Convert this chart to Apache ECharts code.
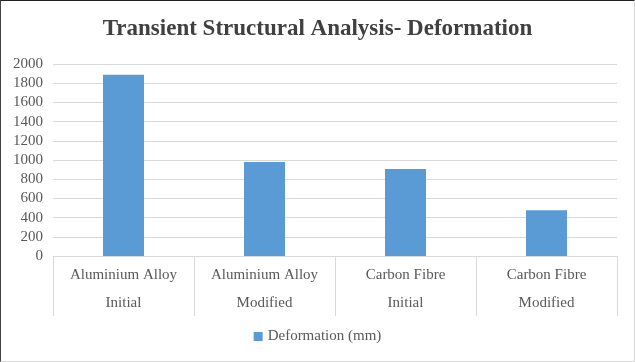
<!DOCTYPE html>
<html>
<head>
<meta charset="utf-8">
<script src="https://cdn.jsdelivr.net/npm/echarts@6/dist/echarts.min.js"></script>
<style>
html,body{margin:0;padding:0;background:#fff;}
#c{position:absolute;left:0;top:0;width:633px;height:360px;border-top:1px solid #222;border-left:1px solid #444;border-right:1px solid #d9d9d9;border-bottom:1px solid #d9d9d9;}
</style>
</head>
<body>
<div id="c"></div>
<script>
const title = 'Transient Structural Analysis- Deformation';
const categories = ['Aluminium Alloy\nInitial', 'Aluminium Alloy\nModified', 'Carbon Fibre\nInitial', 'Carbon Fibre\nModified'];
const seriesName = 'Deformation (mm)';
const values = [1888, 978, 905, 476];
const yTicks = [0, 200, 400, 600, 800, 1000, 1200, 1400, 1600, 1800, 2000];

const serif = '"Liberation Serif", "Times New Roman", serif';
const chart = echarts.init(document.getElementById('c'));
chart.setOption({
  animation: false,
  backgroundColor: '#fff',
  title: {
    text: title,
    left: 'center',
    top: 12,
    textStyle: { fontFamily: serif, fontSize: 23, fontWeight: 'bold', color: '#404040' }
  },
  grid: { left: 52, right: 17, top: 63, bottom: 105, containLabel: false },
  legend: {
    data: [seriesName],
    bottom: 12,
    left: 'center',
    itemWidth: 9,
    itemHeight: 9,
    itemGap: 6,
    icon: 'rect',
    textStyle: { fontFamily: serif, fontSize: 15, color: '#595959' }
  },
  xAxis: {
    type: 'category',
    data: categories,
    axisLine: { lineStyle: { color: '#d9d9d9' } },
    axisTick: { show: true, length: 60, lineStyle: { color: '#d9d9d9' } },
    axisLabel: {
      interval: 0,
      margin: 5,
      fontFamily: serif,
      fontSize: 15,
      lineHeight: 28,
      color: '#595959'
    }
  },
  yAxis: {
    type: 'value',
    min: 0,
    max: 2000,
    interval: 200,
    axisLine: { show: false },
    axisTick: { show: false },
    splitLine: { lineStyle: { color: '#d9d9d9' } },
    axisLabel: {
      margin: 10,
      fontFamily: serif,
      fontSize: 15,
      color: '#595959',
      formatter: v => yTicks.includes(v) ? String(v) : ''
    }
  },
  series: [{
    name: seriesName,
    type: 'bar',
    data: values,
    barWidth: 41,
    itemStyle: { color: '#5b9bd5' }
  }]
});
</script>
</body>
</html>
